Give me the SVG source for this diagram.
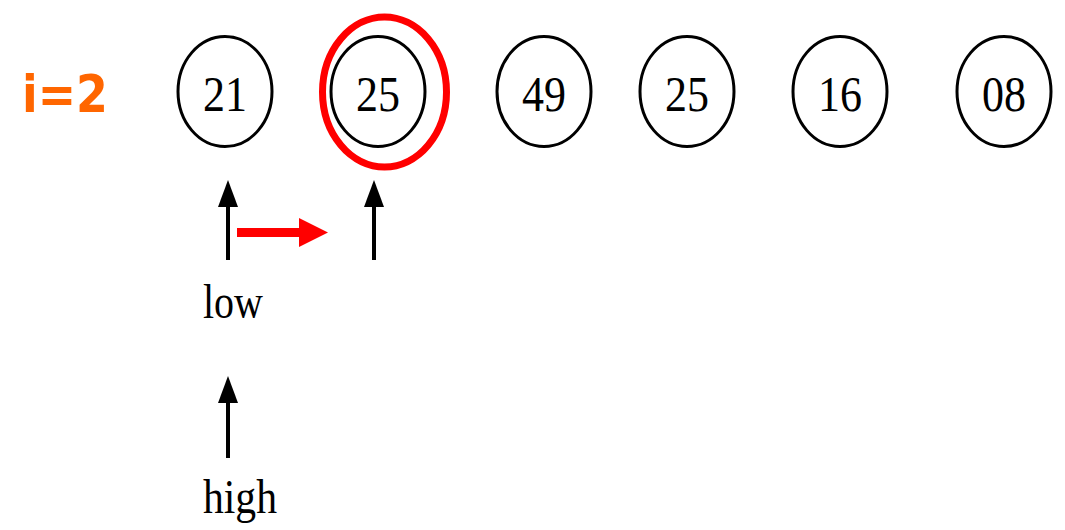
<svg xmlns="http://www.w3.org/2000/svg" width="1065" height="530" viewBox="0 0 1065 530">
<style>
.node{fill:#fff;stroke:#000;stroke-width:3}
.num{font-family:"Liberation Serif","Times New Roman",serif;font-size:50px;fill:#000;text-anchor:middle}
.lbl{font-family:"Liberation Serif","Times New Roman",serif;font-size:48px;fill:#000}
.ptr{stroke:#000;stroke-width:4;fill:none}
.head{fill:#000}
</style>
<defs>
<path id="uphead" d="M-10,27 L0,0 L10,27 Z"/>
</defs>
<rect width="1065" height="530" fill="#fff"/>
<text x="22" y="112" font-family="DejaVu Sans,sans-serif" font-weight="bold" font-size="52" fill="#FF6600" textLength="86" lengthAdjust="spacingAndGlyphs">i=2</text>
<g id="n1"><ellipse class="node" cx="225" cy="91.5" rx="47" ry="55"/><text class="num" x="225" y="111" textLength="44" lengthAdjust="spacingAndGlyphs">21</text></g>
<g id="n2"><ellipse class="node" cx="378" cy="91.5" rx="47" ry="55"/><text class="num" x="378" y="111" textLength="44" lengthAdjust="spacingAndGlyphs">25</text></g>
<g id="n3"><ellipse class="node" cx="544" cy="91.5" rx="47" ry="55"/><text class="num" x="544" y="111" textLength="44" lengthAdjust="spacingAndGlyphs">49</text></g>
<g id="n4"><ellipse class="node" cx="687" cy="91.5" rx="47" ry="55"/><text class="num" x="687" y="111" textLength="44" lengthAdjust="spacingAndGlyphs">25</text></g>
<g id="n5"><ellipse class="node" cx="840" cy="91.5" rx="47" ry="55"/><text class="num" x="840" y="111" textLength="44" lengthAdjust="spacingAndGlyphs">16</text></g>
<g id="n6"><ellipse class="node" cx="1004" cy="91.5" rx="47" ry="55"/><text class="num" x="1004" y="111" textLength="44" lengthAdjust="spacingAndGlyphs">08</text></g>
<g id="highlight"><ellipse cx="384.5" cy="92" rx="62" ry="75" fill="none" stroke="#FF0000" stroke-width="7"/></g>
<g id="connectors">
<line class="ptr" x1="228" y1="260" x2="228" y2="200"/>
<use href="#uphead" class="head" x="228" y="180"/>
<line class="ptr" x1="374" y1="260" x2="374" y2="200"/>
<use href="#uphead" class="head" x="374" y="180"/>
<line class="ptr" x1="228" y1="458" x2="228" y2="396"/>
<use href="#uphead" class="head" x="228" y="376"/>
<line x1="237" y1="232.5" x2="302" y2="232.5" stroke="#FF0000" stroke-width="9"/>
<path d="M299,218 L328,232.5 L299,247 Z" fill="#FF0000"/>
</g>
<g id="low"><text class="lbl" x="203" y="318" textLength="60" lengthAdjust="spacingAndGlyphs">low</text></g>
<g id="high"><text class="lbl" x="203" y="513" textLength="74" lengthAdjust="spacingAndGlyphs">high</text></g>
</svg>
